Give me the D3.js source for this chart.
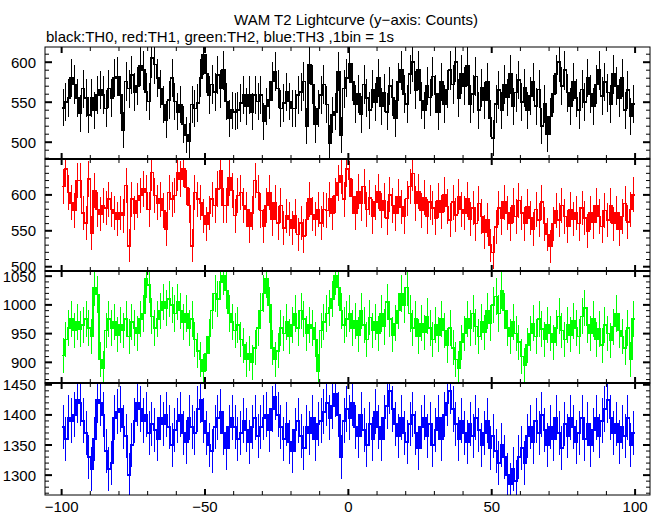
<!DOCTYPE html>
<html><head><meta charset="utf-8">
<script src="https://cdn.jsdelivr.net/npm/d3@7"></script>
<style>body{margin:0;background:#fff}svg{display:block}text{font-family:"Liberation Sans",Arial,sans-serif;fill:#000}</style>
</head><body>
<script>
const titleText = "WAM T2 Lightcurve (y\u2212axis: Counts)";
const subtitleText = "black:TH0, red:TH1, green:TH2, blue:TH3 ,1bin = 1s";
const binStart = -100;
const xTicks = [-100, -50, 0, 50, 100];
const xTickLabels = ["\u2212100", "\u221250", "0", "50", "100"];
const seriesNames = ["TH0", "TH1", "TH2", "TH3"];
const seriesColors = ["#000000", "#ff0000", "#00ff00", "#0000ff"];
const yDomains = [[479, 619], [494, 650], [864, 1059], [1267, 1453]];
const yTickSets = [[500, 550, 600], [500, 550, 600], [900, 950, 1000, 1050], [1300, 1350, 1400, 1450]];

const th0 = [
543,550,555,580,572,555,536,567,555,534,
555,540,559,565,559,542,567,555,580,582,
559,515,576,567,584,563,570,595,590,563,
551,605,597,580,567,547,528,553,580,551,
538,547,522,509,501,547,542,549,580,609,
586,559,572,563,584,567,590,551,530,540,
538,540,549,559,545,559,538,559,551,559,
526,545,553,576,588,567,542,549,563,551,
542,542,559,563,576,520,597,572,522,542,
559,572,547,499,534,538,588,509,567,580,
598,575,548,560,535,572,555,540,566,550,
580,545,562,538,570,556,530,575,590,560,
548,585,600,565,590,552,540,570,556,582,
560,538,575,548,566,590,572,600,555,585,
570,595,548,560,582,540,568,552,575,530,
505,548,565,540,572,556,585,545,562,578,
550,568,540,558,575,545,566,520,548,510,
532,560,585,600,570,590,562,545,575,555,
540,566,550,580,560,545,572,590,558,575,
562,548,585,570,555,580,540,565,532,548];

const th1 = [
612,636,603,589,578,620,620,575,561,622,
547,606,580,573,585,582,594,580,575,566,
575,571,613,529,594,575,592,599,608,603,
580,631,599,589,594,578,552,603,594,599,
631,622,636,610,585,529,603,594,589,571,
559,575,594,585,608,633,585,585,624,606,
571,599,603,585,580,557,575,620,603,578,
557,585,603,566,589,561,585,554,571,566,
554,571,545,561,543,566,594,573,566,580,
561,580,578,594,575,599,617,626,594,636,
622,598,575,605,588,612,580,596,570,590,
605,578,592,568,600,585,574,598,583,570,
595,612,630,588,605,578,596,570,590,582,
568,592,576,600,584,565,590,572,598,580,
575,594,566,582,560,588,570,548,565,530,
520,555,582,568,590,575,560,585,570,592,
575,560,584,568,552,580,565,590,560,545,
528,560,578,565,585,570,556,580,566,575,
560,582,568,550,575,562,585,570,556,578,
565,585,560,575,552,570,588,562,580,600];

const th2 = [
912,940,960,975,955,970,958,965,975,960,
945,1030,1018,905,890,955,975,960,970,948,
965,955,975,945,970,960,950,975,985,1045,
1035,980,960,975,990,1005,995,1010,1000,985,
1005,990,970,985,960,975,940,920,905,884,
915,945,990,1020,1010,1040,1050,1025,985,970,
955,965,940,930,905,915,900,925,960,990,
1020,1045,1000,925,905,920,960,950,970,945,
965,985,960,990,975,950,965,960,940,885,
955,970,985,995,1010,1050,1030,990,965,975,
985,960,972,948,990,965,940,978,955,970,
950,985,962,1005,975,948,968,990,1020,1000,
1030,985,960,975,945,968,952,980,960,940,
965,948,975,955,930,960,925,905,890,935,
950,975,960,985,962,945,970,952,990,968,
1000,1015,985,1025,990,960,945,970,950,935,
910,895,930,950,968,945,975,958,940,965,
950,935,960,980,955,940,965,948,972,960,
945,980,995,965,950,975,940,958,930,965,
950,938,962,985,955,945,925,960,905,975];

const th3 = [
1380,1360,1395,1390,1400,1425,1420,1390,1370,1330,
1310,1360,1425,1420,1400,1340,1310,1320,1395,1405,
1410,1380,1365,1300,1350,1390,1420,1410,1390,1400,
1370,1385,1375,1360,1395,1385,1400,1380,1350,1375,
1390,1400,1370,1355,1395,1380,1370,1410,1425,1390,
1370,1350,1340,1380,1395,1405,1370,1345,1380,1395,
1380,1360,1370,1390,1375,1355,1380,1395,1365,1380,
1395,1400,1375,1410,1430,1400,1380,1360,1385,1355,
1340,1375,1390,1365,1345,1380,1370,1395,1360,1385,
1390,1405,1420,1395,1415,1435,1400,1330,1390,1410,
1395,1420,1380,1365,1400,1375,1350,1385,1360,1405,
1380,1360,1395,1415,1440,1410,1385,1365,1395,1370,
1355,1385,1400,1370,1345,1380,1395,1365,1385,1350,
1375,1395,1360,1400,1420,1440,1410,1385,1360,1390,
1370,1355,1385,1365,1395,1375,1350,1370,1390,1345,
1365,1340,1320,1350,1330,1300,1285,1310,1290,1330,
1345,1320,1365,1380,1355,1390,1370,1400,1375,1350,
1380,1360,1395,1370,1345,1385,1365,1395,1380,1355,
1370,1395,1360,1385,1350,1375,1395,1365,1390,1410,
1425,1395,1370,1385,1355,1380,1365,1395,1350,1370];

const seriesData = [th0, th1, th2, th3];

const W = 662, H = 515;
const left = 45, right = 650, top0 = 47, panelH = 112;
const svg = d3.select("body").append("svg").attr("width", W).attr("height", H);

const x = d3.scaleLinear().domain([-105.8, 105.2]).range([left, right]);

svg.append("text").attr("x", 356).attr("y", 25).attr("text-anchor", "middle")
  .style("font-size", "15px").text(titleText);
svg.append("text").attr("x", 46).attr("y", 42).attr("text-anchor", "start")
  .style("font-size", "15px").text(subtitleText);

seriesData.forEach((vals, p) => {
  const ptop = top0 + p * panelH;
  const y = d3.scaleLinear().domain(yDomains[p]).range([ptop + panelH, ptop]);
  const g = svg.append("g");
  const clipId = "clip" + p;
  svg.append("clipPath").attr("id", clipId).append("rect")
    .attr("x", left).attr("y", ptop).attr("width", right - left).attr("height", panelH);
  const dg = g.append("g").attr("clip-path", `url(#${clipId})`).attr("shape-rendering", "crispEdges");
  const pts = vals.map((v, i) => [binStart + i, v]);
  pts.push([binStart + vals.length, vals[vals.length - 1]]);
  const line = d3.line().x(d => x(d[0])).y(d => y(d[1])).curve(d3.curveStepAfter);
  dg.append("path").attr("d", line(pts)).attr("fill", "none")
    .attr("stroke", seriesColors[p]).attr("stroke-width", 1.5);
  dg.selectAll("line.err").data(vals).join("line").attr("class", "err")
    .attr("x1", (v, i) => x(binStart + i + 0.5)).attr("x2", (v, i) => x(binStart + i + 0.5))
    .attr("y1", v => y(v - Math.sqrt(v))).attr("y2", v => y(v + Math.sqrt(v)))
    .attr("stroke", seriesColors[p]).attr("stroke-width", 1);

  g.append("rect").attr("x", left).attr("y", ptop).attr("width", right - left).attr("height", panelH)
    .attr("fill", "none").attr("stroke", "#000").attr("stroke-width", 1);
  if (p > 0) g.append("line").attr("x1", left).attr("x2", right).attr("y1", ptop).attr("y2", ptop)
    .attr("stroke", "#000").attr("stroke-width", 2);

  const minorX = d3.range(-100, 101, 10);
  minorX.forEach(t => {
    const major = t % 50 === 0;
    const len = major ? 6 : 4;
    const sw = major ? 2 : 1;
    g.append("line").attr("x1", x(t)).attr("x2", x(t)).attr("y1", ptop).attr("y2", ptop + len)
      .attr("stroke", "#000").attr("stroke-width", sw);
    g.append("line").attr("x1", x(t)).attr("x2", x(t)).attr("y1", ptop + panelH).attr("y2", ptop + panelH - len)
      .attr("stroke", "#000").attr("stroke-width", sw);
  });

  const [d0, d1] = yDomains[p];
  const minorY = d3.range(Math.ceil(d0 / 10) * 10, d1 + 0.001, 10);
  minorY.forEach(t => {
    const major = t % 50 === 0;
    const len = major ? 7 : 4;
    const sw = major ? 2 : 1;
    g.append("line").attr("x1", left).attr("x2", left + len).attr("y1", y(t)).attr("y2", y(t))
      .attr("stroke", "#000").attr("stroke-width", sw);
    g.append("line").attr("x1", right).attr("x2", right - len).attr("y1", y(t)).attr("y2", y(t))
      .attr("stroke", "#000").attr("stroke-width", sw);
  });
  yTickSets[p].forEach(t => {
    g.append("text").attr("x", 36).attr("y", y(t) + 5.5).attr("text-anchor", "end")
      .style("font-size", "15px").text(t);
  });
});

xTicks.forEach((t, i) => {
  svg.append("text").attr("x", x(t)).attr("y", 512).attr("text-anchor", "middle")
    .style("font-size", "15px").text(xTickLabels[i]);
});
</script>
</body></html>
